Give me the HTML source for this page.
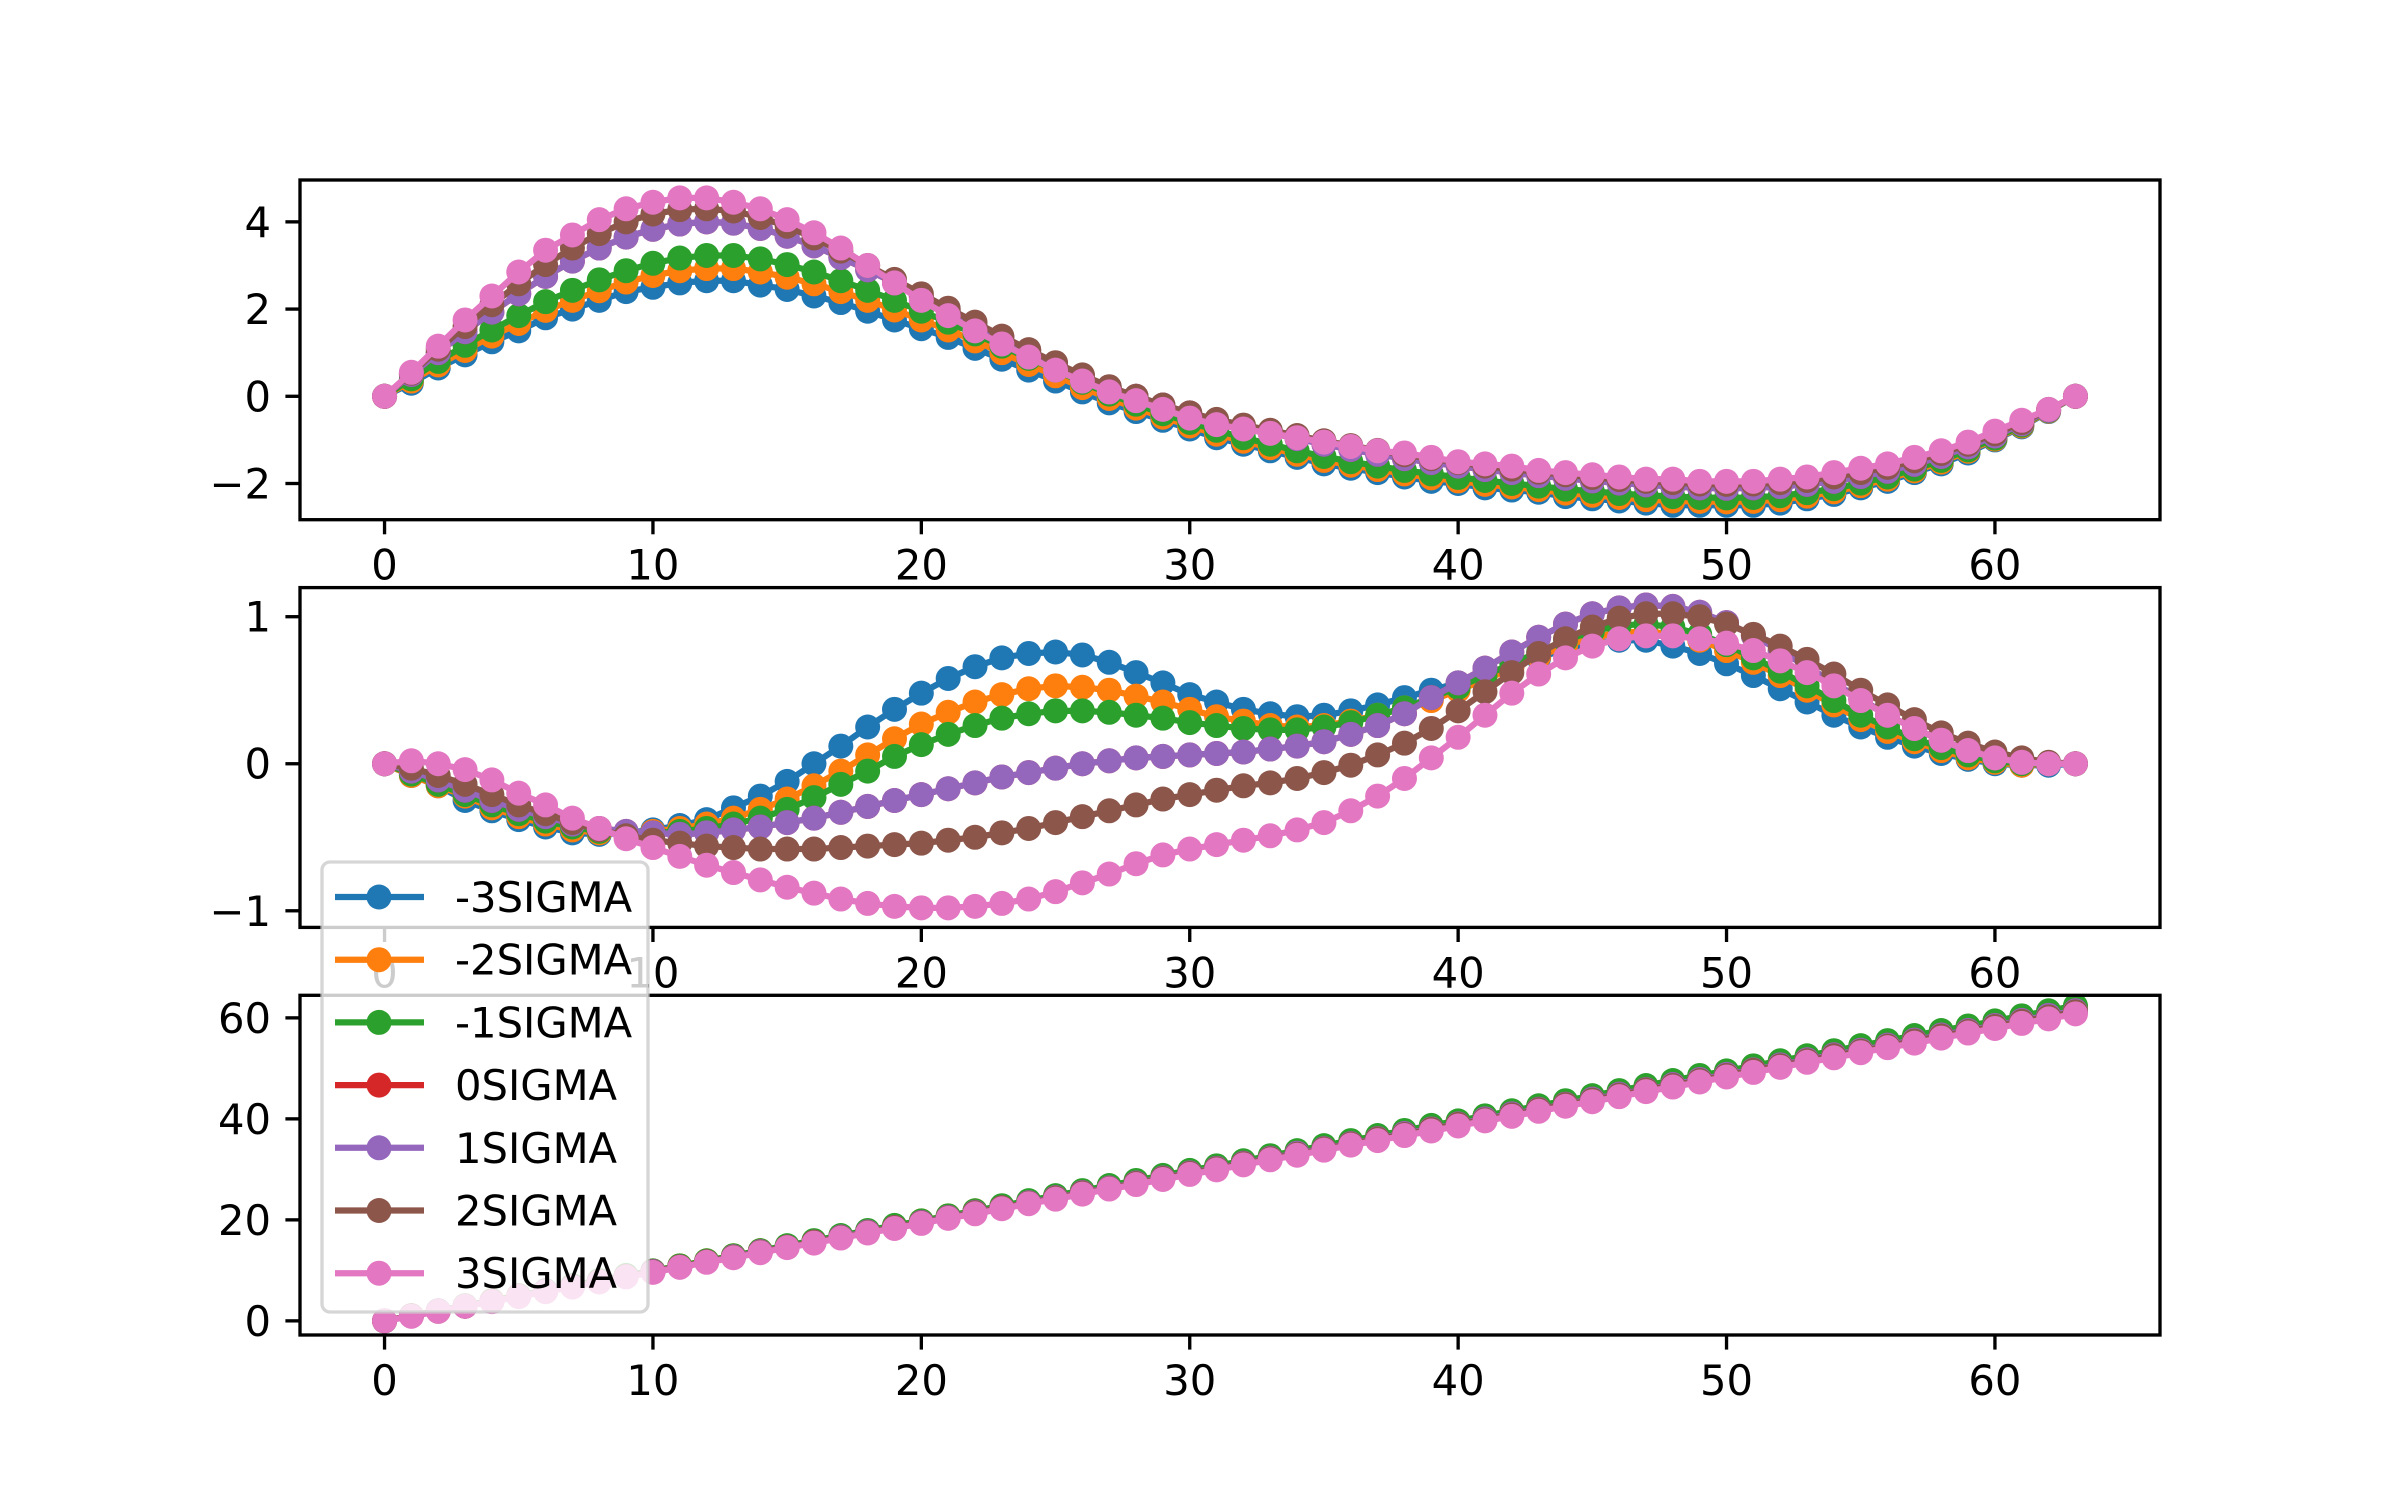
<!DOCTYPE html>
<html><head><meta charset="utf-8">
<style>
html,body{margin:0;padding:0;background:#fff;}
svg{display:block;}
text{font-family:"DejaVu Sans","Liberation Sans",sans-serif;font-size:41.7px;fill:#000;}
</style></head>
<body>
<svg id="fig" width="2400" height="1500" viewBox="0 0 2400 1500" xmlns="http://www.w3.org/2000/svg">
<rect width="2400" height="1500" fill="#fff"/>
</svg>
<script>
const seriesNames = ["-3SIGMA","-2SIGMA","-1SIGMA","0SIGMA","1SIGMA","2SIGMA","3SIGMA"];
const colors = ["#1f77b4","#ff7f0e","#2ca02c","#d62728","#9467bd","#8c564b","#e377c2"];
const xTicks = [0,10,20,30,40,50,60];
const topTicks = [-2,0,2,4];
const midTicks = [-1,0,1];
const botTicks = [0,20,40,60];

const topBlue = [0,0.3,0.65,0.95,1.25,1.5,1.8,2.0,2.2,2.4,2.5,2.6,2.65,2.65,2.55,2.45,2.3,2.15,1.95,1.75,1.55,1.35,1.1,0.85,0.6,0.35,0.1,-0.15,-0.35,-0.55,-0.75,-0.95,-1.1,-1.25,-1.4,-1.55,-1.65,-1.75,-1.85,-1.95,-2.0,-2.1,-2.15,-2.2,-2.3,-2.35,-2.4,-2.45,-2.5,-2.5,-2.5,-2.5,-2.45,-2.35,-2.25,-2.1,-1.95,-1.75,-1.55,-1.3,-1.0,-0.7,-0.35,0];
const topOrange = [0,0.35,0.72,1.05,1.38,1.67,1.97,2.2,2.42,2.62,2.77,2.88,2.93,2.93,2.85,2.73,2.58,2.4,2.2,1.98,1.75,1.52,1.27,1.0,0.73,0.47,0.2,-0.05,-0.27,-0.48,-0.68,-0.87,-1.03,-1.18,-1.33,-1.47,-1.58,-1.68,-1.78,-1.87,-1.94,-2.02,-2.08,-2.14,-2.22,-2.27,-2.32,-2.37,-2.4,-2.41,-2.42,-2.41,-2.37,-2.29,-2.19,-2.05,-1.9,-1.71,-1.51,-1.26,-0.98,-0.68,-0.34,0];
const topGreen = [0,0.4,0.8,1.17,1.52,1.85,2.17,2.43,2.67,2.88,3.05,3.17,3.23,3.23,3.15,3.02,2.85,2.65,2.43,2.2,1.95,1.7,1.43,1.15,0.87,0.6,0.32,0.05,-0.18,-0.4,-0.6,-0.78,-0.95,-1.1,-1.25,-1.38,-1.5,-1.6,-1.7,-1.78,-1.86,-1.93,-2.0,-2.06,-2.13,-2.18,-2.23,-2.27,-2.3,-2.32,-2.33,-2.32,-2.28,-2.21,-2.12,-1.99,-1.85,-1.67,-1.47,-1.23,-0.96,-0.66,-0.33,0];
const topRed = [0,0.5,1.0,1.48,1.93,2.35,2.75,3.1,3.4,3.65,3.83,3.95,4.0,3.97,3.85,3.67,3.45,3.18,2.9,2.6,2.28,1.97,1.65,1.35,1.05,0.76,0.48,0.21,0,-0.2,-0.38,-0.55,-0.7,-0.84,-0.97,-1.1,-1.22,-1.33,-1.43,-1.52,-1.6,-1.68,-1.75,-1.82,-1.88,-1.94,-1.99,-2.03,-2.07,-2.1,-2.11,-2.1,-2.07,-2.02,-1.95,-1.84,-1.72,-1.56,-1.38,-1.16,-0.91,-0.63,-0.32,0];
const topPurple = [0,0.5,1.0,1.48,1.93,2.35,2.75,3.1,3.4,3.65,3.83,3.95,4.0,3.97,3.85,3.67,3.45,3.18,2.9,2.6,2.28,1.97,1.65,1.35,1.05,0.76,0.48,0.21,0,-0.2,-0.38,-0.55,-0.7,-0.84,-0.97,-1.1,-1.22,-1.33,-1.43,-1.52,-1.6,-1.68,-1.75,-1.82,-1.88,-1.94,-1.99,-2.03,-2.07,-2.1,-2.11,-2.1,-2.07,-2.02,-1.95,-1.84,-1.72,-1.56,-1.38,-1.16,-0.91,-0.63,-0.32,0];
const topBrown = [0,0.53,1.08,1.6,2.1,2.58,3.02,3.4,3.73,4.0,4.18,4.28,4.3,4.25,4.1,3.9,3.63,3.33,3.0,2.68,2.35,2.02,1.7,1.38,1.07,0.77,0.49,0.22,0,-0.2,-0.38,-0.53,-0.66,-0.78,-0.9,-1.02,-1.13,-1.24,-1.34,-1.43,-1.52,-1.6,-1.67,-1.74,-1.8,-1.86,-1.91,-1.95,-1.98,-2.01,-2.02,-2.01,-1.98,-1.93,-1.85,-1.75,-1.63,-1.48,-1.31,-1.1,-0.86,-0.6,-0.3,0];
const topPink = [0,0.55,1.15,1.75,2.3,2.85,3.35,3.7,4.05,4.3,4.45,4.55,4.55,4.45,4.3,4.05,3.75,3.4,3.0,2.6,2.2,1.85,1.5,1.2,0.9,0.6,0.35,0.1,-0.1,-0.3,-0.5,-0.65,-0.75,-0.85,-0.95,-1.05,-1.15,-1.25,-1.3,-1.4,-1.5,-1.55,-1.6,-1.7,-1.75,-1.8,-1.85,-1.9,-1.9,-1.95,-1.95,-1.95,-1.9,-1.85,-1.75,-1.65,-1.55,-1.4,-1.25,-1.05,-0.8,-0.55,-0.3,0];

const midBlue = [0,-0.08,-0.15,-0.25,-0.32,-0.38,-0.43,-0.47,-0.48,-0.47,-0.45,-0.42,-0.38,-0.3,-0.22,-0.12,0.0,0.12,0.25,0.37,0.48,0.58,0.66,0.72,0.75,0.76,0.74,0.69,0.62,0.55,0.47,0.42,0.37,0.34,0.32,0.33,0.36,0.4,0.45,0.5,0.55,0.6,0.66,0.72,0.78,0.82,0.84,0.84,0.8,0.75,0.68,0.6,0.51,0.42,0.33,0.25,0.18,0.12,0.07,0.03,0.0,-0.01,-0.01,0];
const midOrange = [0,-0.08,-0.15,-0.22,-0.3,-0.36,-0.41,-0.45,-0.47,-0.47,-0.46,-0.44,-0.41,-0.37,-0.31,-0.24,-0.15,-0.05,0.06,0.17,0.27,0.35,0.42,0.47,0.51,0.53,0.52,0.5,0.46,0.42,0.37,0.32,0.29,0.26,0.25,0.26,0.29,0.33,0.38,0.43,0.5,0.57,0.65,0.73,0.8,0.86,0.89,0.9,0.88,0.84,0.77,0.69,0.6,0.5,0.4,0.3,0.22,0.15,0.09,0.04,0.01,-0.01,0,0];
const midGreen = [0,-0.07,-0.14,-0.21,-0.28,-0.34,-0.39,-0.43,-0.46,-0.47,-0.47,-0.46,-0.44,-0.41,-0.37,-0.31,-0.23,-0.14,-0.05,0.05,0.13,0.2,0.26,0.31,0.34,0.36,0.36,0.35,0.33,0.31,0.28,0.26,0.24,0.23,0.23,0.25,0.28,0.33,0.38,0.45,0.52,0.6,0.68,0.76,0.84,0.9,0.94,0.95,0.93,0.88,0.81,0.72,0.63,0.53,0.43,0.33,0.25,0.17,0.11,0.06,0.02,0,0,0];
const midRed = [0,-0.05,-0.11,-0.18,-0.25,-0.31,-0.36,-0.41,-0.44,-0.46,-0.47,-0.48,-0.47,-0.45,-0.43,-0.4,-0.37,-0.33,-0.29,-0.25,-0.21,-0.17,-0.13,-0.09,-0.06,-0.03,0,0.02,0.04,0.05,0.06,0.07,0.08,0.1,0.12,0.15,0.2,0.26,0.34,0.45,0.55,0.65,0.76,0.86,0.95,1.02,1.06,1.08,1.07,1.03,0.96,0.87,0.77,0.66,0.55,0.44,0.33,0.24,0.16,0.09,0.04,0.01,0,0];
const midPurple = [0,-0.05,-0.11,-0.18,-0.25,-0.31,-0.36,-0.41,-0.44,-0.46,-0.47,-0.48,-0.47,-0.45,-0.43,-0.4,-0.37,-0.33,-0.29,-0.25,-0.21,-0.17,-0.13,-0.09,-0.06,-0.03,0,0.02,0.04,0.05,0.06,0.07,0.08,0.1,0.12,0.15,0.2,0.26,0.34,0.45,0.55,0.65,0.76,0.86,0.95,1.02,1.06,1.08,1.07,1.03,0.96,0.87,0.77,0.66,0.55,0.44,0.33,0.24,0.16,0.09,0.04,0.01,0,0];
const midBrown = [0,-0.03,-0.08,-0.14,-0.21,-0.28,-0.34,-0.4,-0.45,-0.49,-0.52,-0.54,-0.56,-0.57,-0.58,-0.58,-0.58,-0.57,-0.56,-0.55,-0.54,-0.52,-0.5,-0.47,-0.44,-0.4,-0.36,-0.32,-0.28,-0.24,-0.21,-0.18,-0.15,-0.13,-0.1,-0.06,-0.01,0.06,0.14,0.24,0.36,0.49,0.62,0.75,0.85,0.93,0.99,1.02,1.02,1.0,0.95,0.88,0.8,0.71,0.61,0.5,0.4,0.3,0.21,0.14,0.08,0.04,0.01,0];
const midPink = [0,0.02,0.0,-0.04,-0.11,-0.2,-0.28,-0.37,-0.44,-0.51,-0.57,-0.63,-0.69,-0.74,-0.79,-0.84,-0.88,-0.92,-0.95,-0.97,-0.98,-0.98,-0.97,-0.95,-0.92,-0.87,-0.81,-0.75,-0.68,-0.62,-0.58,-0.55,-0.52,-0.49,-0.45,-0.4,-0.32,-0.22,-0.1,0.04,0.18,0.33,0.48,0.61,0.72,0.8,0.85,0.87,0.87,0.85,0.82,0.77,0.7,0.62,0.53,0.43,0.33,0.24,0.16,0.09,0.04,0.01,0,0];

const botBlue = [0,1,2,3,3.9,4.9,5.9,6.9,7.9,8.9,9.9,10.8,11.8,12.8,13.8,14.8,15.8,16.7,17.7,18.7,19.7,20.7,21.7,22.7,23.6,24.6,25.6,26.6,27.6,28.6,29.6,30.5,31.5,32.5,33.5,34.5,35.5,36.4,37.4,38.4,39.4,40.4,41.4,42.4,43.3,44.3,45.3,46.3,47.3,48.3,49.3,50.2,51.2,52.2,53.2,54.2,55.2,56.1,57.1,58.1,59.1,60.1,61.1,62.1];
const botOrange = [0,1,2,3,4,5,5.9,6.9,7.9,8.9,9.9,10.9,11.9,12.9,13.9,14.8,15.8,16.8,17.8,18.8,19.8,20.8,21.8,22.7,23.7,24.7,25.7,26.7,27.7,28.7,29.7,30.6,31.6,32.6,33.6,34.6,35.6,36.6,37.6,38.5,39.5,40.5,41.5,42.5,43.5,44.5,45.5,46.4,47.4,48.4,49.4,50.4,51.4,52.4,53.4,54.3,55.3,56.3,57.3,58.3,59.3,60.3,61.3,62.2];
const botGreen = [0,1,2,3,4,5,6,7,8,9,9.9,10.9,11.9,12.9,13.9,14.9,15.9,16.9,17.9,18.9,19.8,20.8,21.8,22.8,23.8,24.8,25.8,26.8,27.8,28.8,29.8,30.7,31.7,32.7,33.7,34.7,35.7,36.7,37.7,38.7,39.6,40.6,41.6,42.6,43.6,44.6,45.6,46.6,47.6,48.6,49.5,50.5,51.5,52.5,53.5,54.5,55.5,56.5,57.5,58.4,59.4,60.4,61.4,62.4];
const botRed = [0,1,2,2.9,3.9,4.9,5.9,6.8,7.8,8.8,9.8,10.7,11.7,12.7,13.7,14.6,15.6,16.6,17.6,18.5,19.5,20.5,21.5,22.4,23.4,24.4,25.4,26.3,27.3,28.3,29.3,30.2,31.2,32.2,33.2,34.1,35.1,36.1,37.1,38,39,40,41,41.9,42.9,43.9,44.9,45.8,46.8,47.8,48.8,49.7,50.7,51.7,52.7,53.6,54.6,55.6,56.6,57.5,58.5,59.5,60.5,61.4];
const botPurple = [0,1,2,2.9,3.9,4.9,5.9,6.8,7.8,8.8,9.8,10.7,11.7,12.7,13.7,14.6,15.6,16.6,17.6,18.5,19.5,20.5,21.5,22.4,23.4,24.4,25.4,26.3,27.3,28.3,29.3,30.2,31.2,32.2,33.2,34.1,35.1,36.1,37.1,38,39,40,41,41.9,42.9,43.9,44.9,45.8,46.8,47.8,48.8,49.7,50.7,51.7,52.7,53.6,54.6,55.6,56.6,57.5,58.5,59.5,60.5,61.4];
const botBrown = [0,1,1.9,2.9,3.9,4.9,5.8,6.8,7.8,8.8,9.7,10.7,11.7,12.6,13.6,14.6,15.6,16.5,17.5,18.5,19.4,20.4,21.4,22.4,23.3,24.3,25.3,26.2,27.2,28.2,29.2,30.1,31.1,32.1,33,34,35,36,36.9,37.9,38.9,39.8,40.8,41.8,42.8,43.7,44.7,45.7,46.6,47.6,48.6,49.6,50.5,51.5,52.5,53.4,54.4,55.4,56.4,57.3,58.3,59.3,60.2,61.2];
const botPink = [0,0.9,1.9,2.9,3.8,4.8,5.8,6.7,7.7,8.7,9.6,10.6,11.6,12.5,13.5,14.5,15.4,16.4,17.4,18.3,19.3,20.3,21.2,22.2,23.2,24.1,25.1,26.1,27,28,29,29.9,30.9,31.9,32.8,33.8,34.8,35.7,36.7,37.6,38.6,39.6,40.5,41.5,42.5,43.4,44.4,45.4,46.3,47.3,48.3,49.2,50.2,51.2,52.1,53.1,54.1,55,56,57,57.9,58.9,59.8,60.8];

const NS = "http://www.w3.org/2000/svg";
const svg = document.getElementById("fig");
function mk(tag, attrs, parent){
  const e = document.createElementNS(NS, tag);
  for (const k in attrs) e.setAttribute(k, attrs[k]);
  (parent||svg).appendChild(e);
  return e;
}
const L = 300, R = 2160, W = R - L;
const xMin = -3.15, xMax = 66.15;
const xScale = v => L + (v - xMin) / (xMax - xMin) * W;
const fmt = v => (v < 0 ? "\u2212" + Math.abs(v) : String(v));

const panels = [
  {name:"top", top:180, bottom:519.7, yMin:-2.83, yMax:4.96, ticks:topTicks, data:[topBlue,topOrange,topGreen,topRed,topPurple,topBrown,topPink]},
  {name:"middle", top:587.6, bottom:927.4, yMin:-1.113, yMax:1.198, ticks:midTicks, data:[midBlue,midOrange,midGreen,midRed,midPurple,midBrown,midPink]},
  {name:"bottom", top:995.3, bottom:1335, yMin:-2.8, yMax:64.47, ticks:botTicks, data:[botBlue,botOrange,botGreen,botRed,botPurple,botBrown,botPink]}
];

panels.forEach(p => {
  const g = mk("g", {});
  
  
  const yScale = v => p.bottom - (v - p.yMin) / (p.yMax - p.yMin) * (p.bottom - p.top);
  const clipId = "clip-" + p.name;
  const cp = mk("clipPath", {id: clipId}, g);
  mk("rect", {x:L, y:p.top, width:W, height:p.bottom - p.top}, cp);
  const plot = mk("g", {"clip-path": "url(#" + clipId + ")"}, g);
  p.data.forEach((arr, si) => {
    const sg = mk("g", {}, plot);
    
    
    const pts = arr.map((v, i) => xScale(i).toFixed(2) + "," + yScale(v).toFixed(2)).join(" ");
    const line = mk("polyline", {points: pts, fill: "none", stroke: colors[si], "stroke-width": 6.25, "stroke-linejoin": "round"}, sg);
    
    
    arr.forEach((v, i) => {
      const c = mk("circle", {cx: xScale(i), cy: yScale(v), r: 12.5, fill: colors[si]}, sg);
      
      
    });
  });
  const frame = mk("rect", {x:L, y:p.top, width:W, height:p.bottom - p.top, fill:"none", stroke:"#000", "stroke-width":3.33}, g);
  
  
  xTicks.forEach(t => {
    const x = xScale(t);
    mk("line", {x1:x, x2:x, y1:p.bottom, y2:p.bottom + 14.6, stroke:"#000", "stroke-width":3.33}, g);
    const tx = mk("text", {x:x, y:p.bottom + 29 + 31, "text-anchor":"middle"}, g);
    tx.textContent = fmt(t);
    
    
  });
  p.ticks.forEach(t => {
    const y = yScale(t);
    mk("line", {x1:L - 14.6, x2:L, y1:y, y2:y, stroke:"#000", "stroke-width":3.33}, g);
    const ty = mk("text", {x:L - 29, y:y + 15, "text-anchor":"end"}, g);
    ty.textContent = fmt(t);
    
    
  });
});

// legend
const lg = mk("g", {});


mk("rect", {x:322, y:862, width:326, height:450, rx:8, ry:8, fill:"#fff", "fill-opacity":0.8, stroke:"#cccccc", "stroke-opacity":0.8, "stroke-width":3.33}, lg);
seriesNames.forEach((n, i) => {
  const y = 897 + i * 62.7;
  const e = mk("g", {}, lg);
  
  
  mk("line", {x1:335, x2:424, y1:y, y2:y, stroke:colors[i], "stroke-width":6.25}, e);
  mk("circle", {cx:379, cy:y, r:12.5, fill:colors[i]}, e);
  const t = mk("text", {x:455, y:y + 15}, e);
  t.textContent = n;
});
</script>
</body></html>
